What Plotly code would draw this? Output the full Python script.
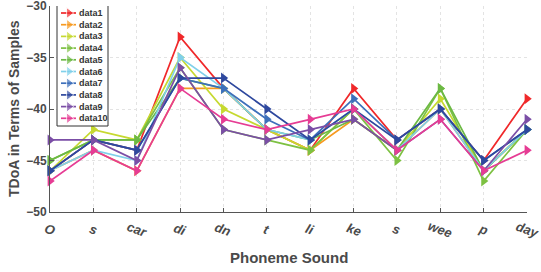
import plotly.graph_objects as go

categories = ["O", "s", "car", "di", "dn", "t", "li", "ke", "s", "wee", "p", "day"]
series_names = ["data1", "data2", "data3", "data4", "data5", "data6", "data7", "data8", "data9", "data10"]
data1 = [-46, -43, -44, -33, -38, -42, -44, -38, -43, -40, -45, -39]
data2 = [-46, -44, -46, -38, -38, -42, -44, -41, -44, -40, -46, -42]
data3 = [-46, -42, -43, -35, -40, -42, -44, -40, -44, -39, -46, -42]
data4 = [-45, -43, -43, -36, -42, -43, -44, -40, -45, -38, -47, -42]
data5 = [-45, -43, -43, -37, -38, -42, -43, -41, -44, -38, -46, -42]
data6 = [-46, -44, -45, -35, -38, -42, -43, -40, -44, -40, -46, -42]
data7 = [-46, -43, -44, -37, -38, -41, -43, -39, -43, -40, -45, -42]
data8 = [-46, -43, -44, -37, -37, -40, -43, -40, -43, -40, -45, -42]
data9 = [-43, -43, -45, -36, -42, -43, -42, -41, -44, -41, -46, -41]
data10 = [-47, -44, -46, -38, -41, -42, -41, -40, -44, -41, -46, -44]
all_series = [data1, data2, data3, data4, data5, data6, data7, data8, data9, data10]
colors = ["#f0282a", "#f79a20", "#c6d930", "#7dc142", "#6cb944", "#80d0ea",
          "#3d6fba", "#2e489e", "#7b4ea6", "#e63c94"]
y_ticks = [-50, -45, -40, -35, -30]

# plot-area geometry in pixels
W, H = 541, 272
PL, PR, PT, PB = 50, 527, 6, 212
FONT = "Liberation Sans, Arial"
GREY = "#4a4a4a"

def fx(px):
    return (px - PL) / (PR - PL)

def fy(py):
    return (PB - py) / (PB - PT)

fig = go.Figure()
x_idx = list(range(len(categories)))
for name, vals, col in zip(series_names, all_series, colors):
    fig.add_trace(go.Scatter(
        x=x_idx, y=vals, name=name, mode="lines+markers",
        line=dict(color=col, width=1.7),
        marker=dict(symbol="triangle-right", size=9.5, color=col),
        cliponaxis=False, showlegend=False,
    ))

# custom compact legend (overlay axes x2/y2 spanning the plot area, range 0..1)
bx0, bx1, by0, by1 = fx(57), fx(108), fy(4), fy(126)
fig.add_trace(go.Scatter(
    x=[bx0, bx1, bx1, bx0, bx0], y=[by0, by0, by1, by1, by0],
    xaxis="x2", yaxis="y2", mode="lines", fill="toself",
    fillcolor="white", line=dict(color="#333333", width=1),
    hoverinfo="skip", showlegend=False, cliponaxis=False,
))
annotations = []
for i, (name, col) in enumerate(zip(series_names, colors)):
    py = 13 + 11.7 * i
    fig.add_trace(go.Scatter(
        x=[fx(61), fx(69), fx(76)], y=[fy(py)] * 3,
        xaxis="x2", yaxis="y2", mode="lines+markers",
        line=dict(color=col, width=1.7),
        marker=dict(symbol="triangle-right", size=[0, 9.5, 0], color=col),
        hoverinfo="skip", showlegend=False, cliponaxis=False,
    ))
    annotations.append(dict(
        x=fx(77), y=fy(py), xref="x2", yref="y2", text=name, showarrow=False,
        xanchor="left", yanchor="middle",
        font=dict(family=FONT, size=9, color="#333333", weight="bold"),
    ))

# category labels rotated and centred on their ticks
for i, cat in enumerate(categories):
    annotations.append(dict(
        x=i, y=fy(229), xref="x", yref="paper", text=cat, showarrow=False,
        xanchor="center", yanchor="middle", textangle=20,
        font=dict(family=FONT, size=13, color=GREY, style="italic", weight="bold"),
    ))
annotations.append(dict(
    x=0.5, y=fy(257), xref="paper", yref="paper", text="Phoneme Sound", showarrow=False,
    xanchor="center", yanchor="middle",
    font=dict(family=FONT, size=15, color=GREY, weight="bold"),
))
annotations.append(dict(
    x=fx(14), y=0.5, xref="paper", yref="paper", text="TDoA in Terms of Samples", showarrow=False,
    xanchor="center", yanchor="middle", textangle=-90,
    font=dict(family=FONT, size=14, color=GREY, weight="bold"),
))

fig.update_layout(
    width=W, height=H,
    margin=dict(l=PL, r=W - PR, t=PT, b=H - PB),
    plot_bgcolor="white", paper_bgcolor="white",
    showlegend=False,
    annotations=annotations,
    xaxis=dict(
        tickmode="array", tickvals=x_idx, ticktext=categories, showticklabels=False,
        range=[0, 11], automargin=False,
        showgrid=True, gridcolor="#e3e3e3", griddash="dot", gridwidth=1,
        showline=True, linecolor="#555555", linewidth=1,
        ticks="inside", ticklen=4, tickcolor="#555555",
        zeroline=False,
    ),
    yaxis=dict(
        tickmode="array", tickvals=y_ticks, range=[-50, -30], automargin=False,
        showgrid=True, gridcolor="#e3e3e3", griddash="dot", gridwidth=1,
        showline=True, linecolor="#555555", linewidth=1,
        ticks="inside", ticklen=4, tickcolor="#555555",
        tickfont=dict(family=FONT, size=12, color=GREY, weight="bold"),
        ticklabeloverflow="allow",
        zeroline=False,
    ),
    xaxis2=dict(overlaying="x", range=[0, 1], visible=False, fixedrange=True),
    yaxis2=dict(overlaying="y", range=[0, 1], visible=False, fixedrange=True),
)
fig.write_html("out.html", config={"displayModeBar": False},
               post_script="document.body.style.margin='0';document.body.style.overflow='hidden';")
